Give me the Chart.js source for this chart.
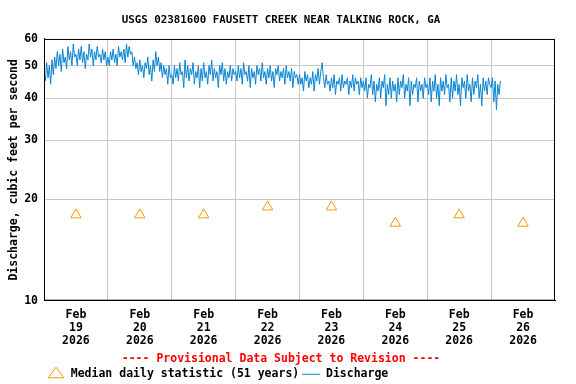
<!DOCTYPE html>
<html>
<head>
<meta charset="utf-8">
<script src="https://cdn.jsdelivr.net/npm/chart.js@4/dist/chart.umd.min.js"></script>
<style>
  html, body { margin: 0; padding: 0; background: #fff; }
  #wrap { width: 576px; height: 384px; }
</style>
</head>
<body>
<div id="wrap"><canvas id="flow"></canvas></div>
<script>
// half-hourly discharge (cfs), first value = Feb 19 00:00
const feb19Flow = [48, 45, 51, 46, 50, 44, 52, 47, 53, 49, 55, 50, 54, 48, 56, 51, 53, 49, 57, 52, 55, 50, 58, 53,
                   54, 50, 56, 52, 57, 51, 55, 49, 54, 52, 58, 53, 56, 50, 55, 52, 57, 53, 54, 51, 56, 52, 55, 50];
const feb20Flow = [53, 50, 55, 52, 56, 51, 54, 50, 57, 53, 55, 52, 56, 51, 58, 53, 57, 54, 55, 50, 53, 49, 51, 47,
                   52, 48, 50, 46, 51, 49, 53, 47, 50, 45, 52, 48, 55, 50, 53, 48, 51, 46, 50, 47, 49, 44, 50, 46];
const feb21Flow = [47, 44, 50, 46, 49, 45, 51, 47, 48, 43, 52, 46, 50, 45, 49, 47, 51, 44, 48, 46, 50, 43, 49, 45,
                   51, 46, 48, 44, 50, 47, 52, 45, 49, 46, 48, 43, 50, 47, 51, 45, 49, 44, 48, 46, 50, 45, 49, 47];
const feb22Flow = [48, 45, 50, 46, 49, 44, 51, 47, 48, 45, 50, 43, 49, 46, 48, 44, 50, 47, 49, 45, 51, 46, 48, 44,
                   49, 46, 50, 45, 48, 43, 49, 47, 50, 45, 48, 46, 49, 44, 50, 46, 48, 45, 49, 43, 48, 46, 47, 44];
const feb23Flow = [47, 44, 46, 42, 48, 45, 47, 43, 46, 44, 48, 42, 47, 45, 49, 44, 48, 51, 46, 43, 47, 44, 45, 42,
                   46, 43, 47, 41, 45, 44, 46, 42, 47, 43, 45, 44, 46, 41, 45, 43, 47, 42, 46, 44, 45, 41, 46, 43];
const feb24Flow = [45, 42, 46, 40, 44, 43, 47, 41, 45, 39, 44, 42, 46, 40, 45, 43, 47, 38, 44, 41, 46, 40, 45, 42,
                   44, 39, 46, 41, 45, 43, 47, 40, 44, 42, 46, 38, 45, 41, 44, 43, 46, 39, 45, 42, 44, 40, 46, 43];
const feb25Flow = [44, 41, 46, 39, 45, 42, 47, 40, 44, 38, 46, 42, 45, 41, 47, 43, 44, 39, 46, 40, 45, 42, 47, 41,
                   44, 38, 46, 43, 45, 40, 47, 42, 44, 39, 46, 41, 45, 43, 47, 40, 44, 38, 46, 42, 45, 41, 46, 44];
const feb26Flow = [43, 46, 39, 45, 37, 44, 41, 45];

const dayLabels = ['19', '20', '21', '22', '23', '24', '25', '26'];
const medianFlow = [18, 18, 18, 19, 19, 17, 18, 17];
const yTicks = [10, 20, 30, 40, 50, 60];

const flowSeries = [].concat(feb19Flow, feb20Flow, feb21Flow, feb22Flow,
                             feb23Flow, feb24Flow, feb25Flow, feb26Flow);
const flowPoints = flowSeries.map((v, i) => ({ x: i / 2, y: v }));
const medianPoints = medianFlow.map((v, d) => ({ x: d * 24 + 12, y: v }));

const FONT = 'DejaVu Sans Mono';

// box around the plot area
const frame = {
  id: 'frame',
  afterDraw(chart) {
    const a = chart.chartArea, ctx = chart.ctx;
    ctx.save();
    ctx.strokeStyle = '#000';
    ctx.lineWidth = 1;
    ctx.strokeRect(a.left + 0.5, a.top + 0.5, a.right - a.left - 1, a.bottom - a.top - 1);
    ctx.restore();
  }
};

new Chart(document.getElementById('flow'), {
  type: 'line',
  data: {
    datasets: [
      {
        label: 'Median daily statistic (51 years)',
        data: medianPoints,
        showLine: false,
        pointStyle: 'triangle',
        pointRadius: 6,
        pointBorderColor: '#F59B00',
        pointBackgroundColor: 'rgba(255,255,255,0)',
        pointBorderWidth: 1,
        borderColor: '#F59B00',
        backgroundColor: 'rgba(255,255,255,0)'
      },
      {
        label: 'Discharge',
        data: flowPoints,
        borderColor: '#0A84D2',
        backgroundColor: '#0A84D2',
        borderWidth: 1,
        pointRadius: 0,
        pointStyle: 'line',
        tension: 0
      }
    ]
  },
  options: {
    responsive: true,
    maintainAspectRatio: false,
    animation: false,
    layout: { padding: { left: 7, right: 21, top: 0, bottom: -6 } },
    plugins: {
      title: {
        display: true,
        text: 'USGS 02381600 FAUSETT CREEK NEAR TALKING ROCK, GA',
        color: '#000',
        font: { family: FONT, size: 10.8, weight: 'bold' },
        padding: { top: 14, bottom: 12 }
      },
      subtitle: {
        display: true,
        position: 'bottom',
        weight: 500,
        text: '---- Provisional Data Subject to Revision ----',
        color: '#FF0000',
        font: { family: FONT, size: 11.5, weight: 'bold' },
        padding: { top: -4, bottom: 0 }
      },
      legend: {
        position: 'bottom',
        align: 'start',
        fullSize: false,
        labels: {
          usePointStyle: true,
          pointStyleWidth: 18,
          boxHeight: 10,
          color: '#000',
          font: { family: FONT, size: 11.5, weight: 'bold' },
          padding: 3
        }
      },
      tooltip: { enabled: false }
    },
    scales: {
      x: {
        type: 'linear',
        min: 0,
        max: 192,
        afterBuildTicks(scale) {
          const t = [];
          for (let h = 0; h <= 192; h += 12) t.push({ value: h });
          scale.ticks = t;
        },
        ticks: {
          autoSkip: false,
          maxRotation: 0,
          color: '#000',
          font: { family: FONT, size: 11.5, weight: 'bold', lineHeight: '13px' },
          padding: 8,
          callback(v) {
            if (v % 24 !== 12) return '';
            return ['Feb', dayLabels[(v - 12) / 24], '2026'];
          }
        },
        grid: {
          drawTicks: false,
          color(c) {
            const v = c.tick.value;
            return (v % 24 === 0 && v > 0 && v < 192) ? '#C8C8C8' : 'rgba(0,0,0,0)';
          }
        },
        border: { color: '#000' }
      },
      y: {
        type: 'logarithmic',
        min: 10,
        max: 60,
        afterBuildTicks(scale) {
          scale.ticks = yTicks.map(v => ({ value: v }));
        },
        afterFit(scale) { scale.width = 37; },
        title: {
          display: true,
          text: 'Discharge, cubic feet per second',
          color: '#000',
          font: { family: FONT, size: 11.5, weight: 'bold' },
          padding: { top: 0, bottom: 0 }
        },
        ticks: {
          color: '#000',
          font: { family: FONT, size: 11.5, weight: 'bold' },
          padding: 6,
          callback(v) { return String(v); }
        },
        grid: {
          drawTicks: false,
          color(c) {
            const v = c.tick.value;
            return (v > 10 && v < 60) ? '#C8C8C8' : 'rgba(0,0,0,0)';
          }
        },
        border: { color: '#000' }
      }
    }
  },
  plugins: [frame]
});
</script>
</body>
</html>
